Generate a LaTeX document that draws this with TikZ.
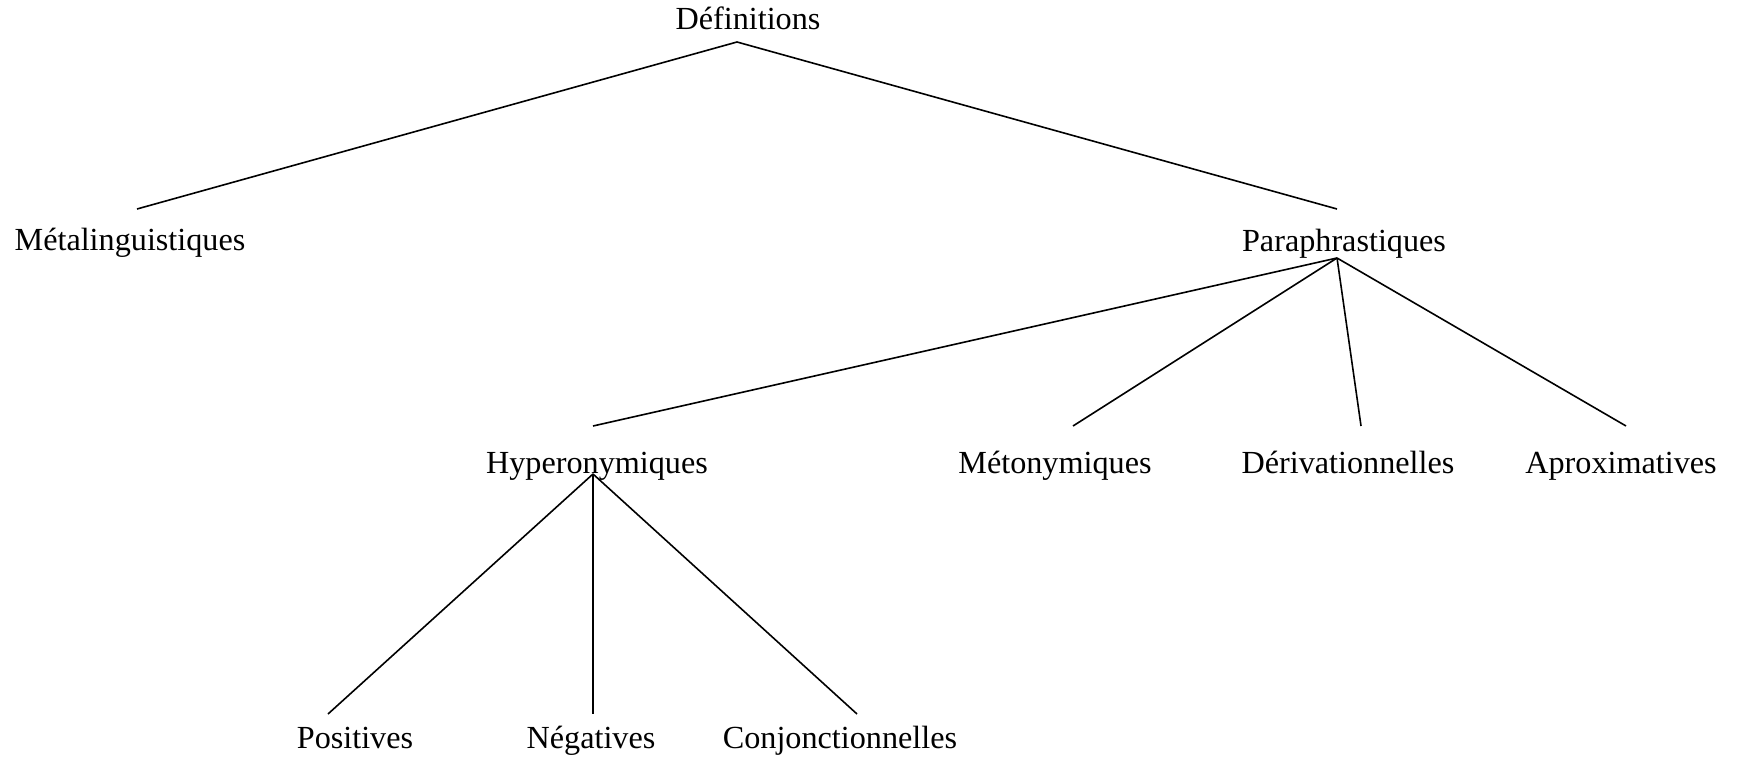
\documentclass[tikz,border=0pt]{standalone}
\usepackage{fontspec}
\setmainfont{Liberation Serif}
\begin{document}
\begin{tikzpicture}[x=0.5pt,y=-0.5pt,
  label/.style={anchor=base,inner sep=0pt,font=\fontsize{16.1}{19}\selectfont},
  branch/.style={line width=0.8pt,black}]
\useasboundingbox (0,0) rectangle (1738,759);
% level 0
\node[label] (def) at (748,30) {Définitions};
% level 1
\node[label] (meta) at (130,250) {Métalinguistiques};
\node[label] (para) at (1344,251) {Paraphrastiques};
% level 2
\node[label] (hyp) at (597,473) {Hyperonymiques};
\node[label] (meto) at (1055,473) {Métonymiques};
\node[label] (deriv) at (1348,473) {Dérivationnelles};
\node[label] (aprox) at (1621,473) {Aproximatives};
% level 3
\node[label] (pos) at (355,748) {Positives};
\node[label] (neg) at (591,748) {Négatives};
\node[label] (conj) at (840,748) {Conjonctionnelles};
% branch end points
\coordinate (def-b) at (737,42);
\coordinate (meta-t) at (137,209);
\coordinate (para-t) at (1337,209);
\coordinate (para-b) at (1337,258);
\coordinate (hyp-t) at (593,426);
\coordinate (meto-t) at (1073,426);
\coordinate (deriv-t) at (1361,426);
\coordinate (aprox-t) at (1626,426);
\coordinate (hyp-b) at (593,474);
\coordinate (pos-t) at (328,714);
\coordinate (neg-t) at (593,714);
\coordinate (conj-t) at (857,714);
% branches
\draw[branch] (meta-t) -- (def-b) -- (para-t);
\draw[branch] (para-b) -- (hyp-t);
\draw[branch] (para-b) -- (meto-t);
\draw[branch] (para-b) -- (deriv-t);
\draw[branch] (para-b) -- (aprox-t);
\draw[branch] (hyp-b) -- (pos-t);
\draw[branch] (hyp-b) -- (neg-t);
\draw[branch] (hyp-b) -- (conj-t);
\end{tikzpicture}
\end{document}
